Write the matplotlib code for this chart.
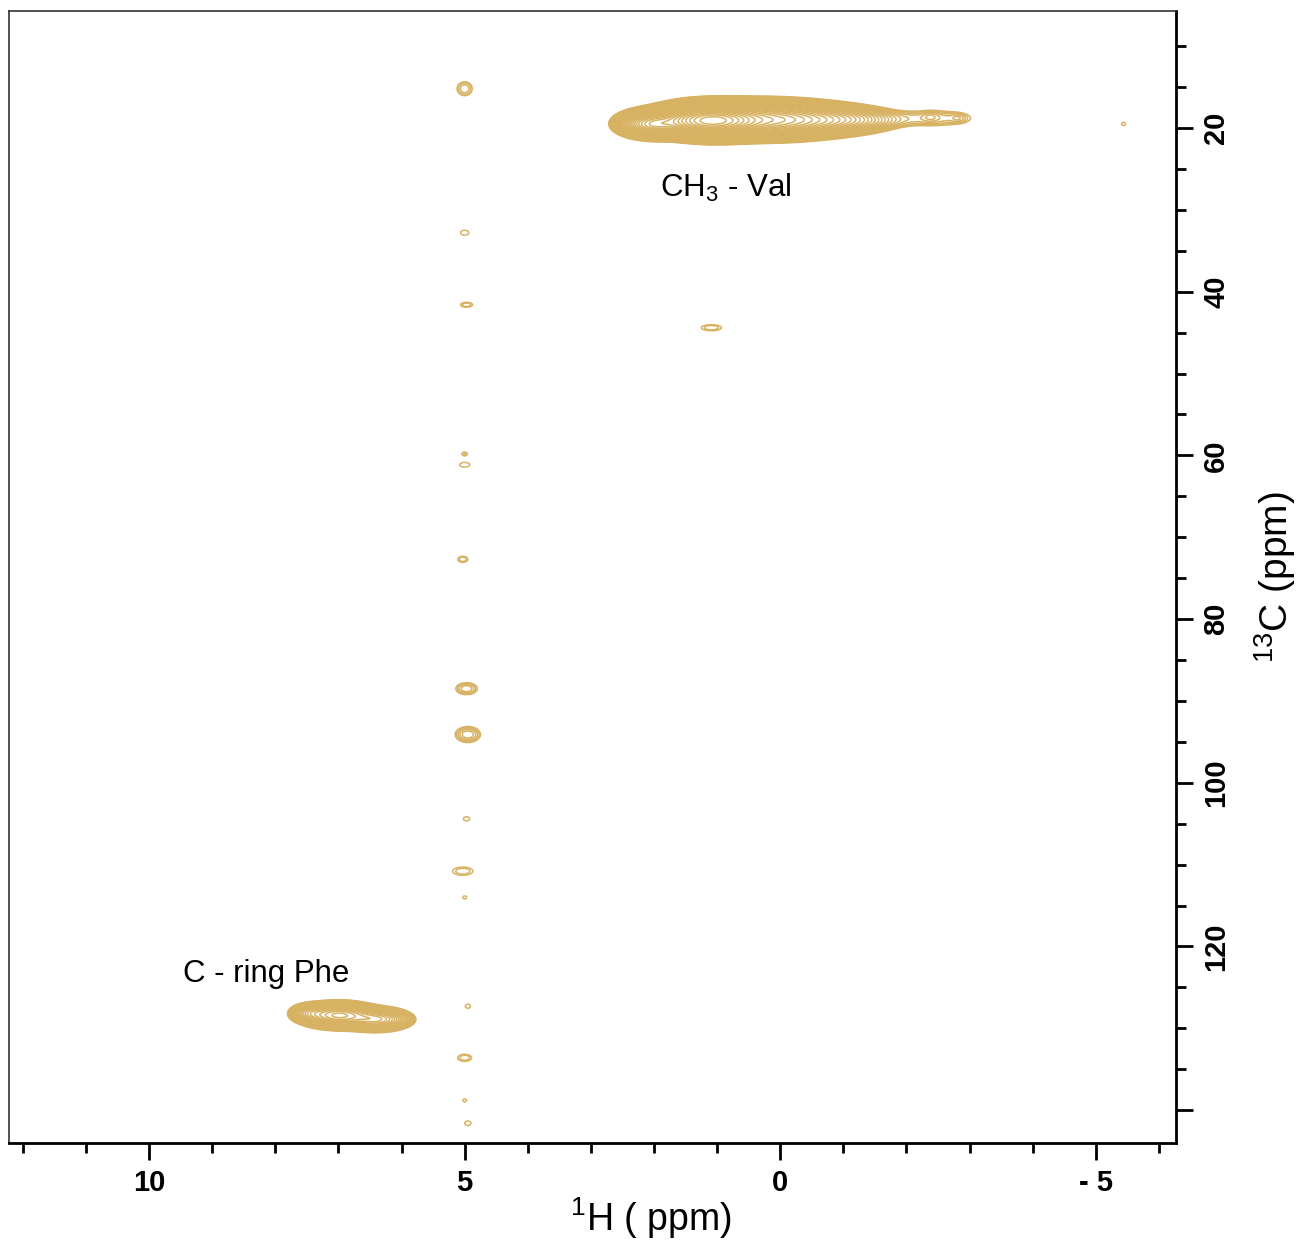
import numpy as np
import matplotlib
matplotlib.use('Agg')
import matplotlib.pyplot as plt
from matplotlib.ticker import MultipleLocator, FuncFormatter

plt.rcParams['font.family'] = ['Liberation Sans', 'DejaVu Sans']
plt.rcParams['mathtext.fontset'] = 'custom'
plt.rcParams['mathtext.rm'] = 'Liberation Sans'
plt.rcParams['mathtext.it'] = 'Liberation Sans:italic'

# axis ranges (ppm)
x_lim = (12.22, -6.27)
y_lim = (5.7, 144.0)

# broad peaks: CH3-Val and C-ring Phe (center, sigma, height)
big_x = [1.10, 0.30, 2.00, -0.90, -2.45, -2.38, -2.82, 7.00, 6.40, 7.45]
big_y = [19.1, 19.0, 19.5, 19.0, 18.8, 18.6, 18.8, 128.4, 128.9, 128.1]
big_sx = [0.35, 0.63, 0.24, 0.45, 0.50, 0.08, 0.08, 0.27, 0.25, 0.15]
big_sy = [0.85, 0.95, 0.72, 0.80, 0.80, 0.40, 0.35, 0.70, 0.65, 0.55]
big_amp = [100, 30, 25, 4, 0.55, 0.2, 0.2, 12, 7, 3]

# small peaks: center, outer radius (ppm), number of contour rings
small_x = [5.00, 5.00, 4.97, 5.00, 5.00, 5.03, 4.97, 4.95, 4.97, 5.03,
           5.00, 4.95, 5.00, 5.00, 4.95, 1.09, -5.44]
small_y = [15.2, 32.8, 41.6, 59.8, 61.15, 72.7, 88.5, 94.1, 104.4, 110.8,
           114.0, 127.3, 133.6, 138.8, 141.6, 44.4, 19.5]
small_rx = [0.12, 0.065, 0.095, 0.04, 0.08, 0.08, 0.17, 0.20, 0.05, 0.16,
            0.03, 0.04, 0.11, 0.03, 0.05, 0.16, 0.03]
small_ry = [0.85, 0.30, 0.30, 0.20, 0.28, 0.37, 0.73, 0.98, 0.25, 0.50,
            0.18, 0.25, 0.43, 0.18, 0.28, 0.37, 0.20]
small_n = [3, 1, 2, 1, 1, 2, 4, 5, 1, 2, 1, 1, 2, 1, 1, 2, 1]

base = 0.3
ratio = 1.18
levels = base * ratio ** np.arange(36)

xs = np.linspace(-6.3, 12.3, 1800)
ys = np.linspace(5.0, 145.0, 2000)
Z = np.zeros((len(ys), len(xs)))

for x0, y0, sx, sy, a in zip(big_x, big_y, big_sx, big_sy, big_amp):
    Z += a * np.outer(np.exp(-(ys - y0) ** 2 / (2 * sy ** 2)),
                      np.exp(-(xs - x0) ** 2 / (2 * sx ** 2)))

for x0, y0, rx, ry, n in zip(small_x, small_y, small_rx, small_ry, small_n):
    a = base * ratio ** (n - 0.05)
    f = np.sqrt(2 * np.log(a / base))
    sx, sy = rx / f, ry / f
    Z += a * np.outer(np.exp(-(ys - y0) ** 2 / (2 * sy ** 2)),
                      np.exp(-(xs - x0) ** 2 / (2 * sx ** 2)))

fig = plt.figure(figsize=(13.03, 12.43), dpi=100)
ax = fig.add_axes([0.0069, 0.0805, 0.8956, 0.9107])

ax.contour(xs, ys, Z, levels=levels, colors='#D8B263', linewidths=1.1)

ax.set_xlim(*x_lim)
ax.set_ylim(y_lim[1], y_lim[0])

ax.text(0.87, 27.3, r'CH$_3$ - Val', fontsize=22.5, ha='center', va='center')
ax.text(8.15, 123.3, 'C - ring Phe', fontsize=22.5, ha='center', va='center')

# spines
for s in ['top', 'left']:
    ax.spines[s].set_linewidth(1.2)
    ax.spines[s].set_color('#333333')
for s in ['bottom', 'right']:
    ax.spines[s].set_linewidth(2.0)
    ax.spines[s].set_color('black')

ax.xaxis.set_major_locator(MultipleLocator(5))
ax.xaxis.set_minor_locator(MultipleLocator(1))
ax.yaxis.set_major_locator(MultipleLocator(20))
ax.yaxis.set_minor_locator(MultipleLocator(5))

ax.xaxis.set_major_formatter(FuncFormatter(lambda v, p: f'- {abs(v):g}' if v < 0 else f'{v:g}'))
ax.yaxis.set_major_formatter(FuncFormatter(lambda v, p: '' if v > 130 else f'{v:g}'))

ax.yaxis.tick_right()
ax.yaxis.set_label_position('right')
ax.tick_params(axis='both', which='both', direction='out', width=2.0, color='black')
ax.tick_params(axis='both', which='major', length=12, pad=7, labelsize=21)
ax.tick_params(axis='both', which='minor', length=7)
ax.tick_params(axis='y', which='both', left=False, right=True)
for lab in ax.get_xticklabels():
    lab.set_fontweight('bold')
for lab in ax.get_yticklabels():
    lab.set_fontweight('bold')
    lab.set_rotation(90)
    lab.set_va('center')

ax.set_xlabel(r'$^{1}$H ( ppm)', fontsize=27)
ax.xaxis.set_label_coords(0.55, -0.046)
ax.set_ylabel(r'$^{13}$C (ppm)', fontsize=28, labelpad=16, rotation=90)

fig.savefig('out.png', dpi=100)
